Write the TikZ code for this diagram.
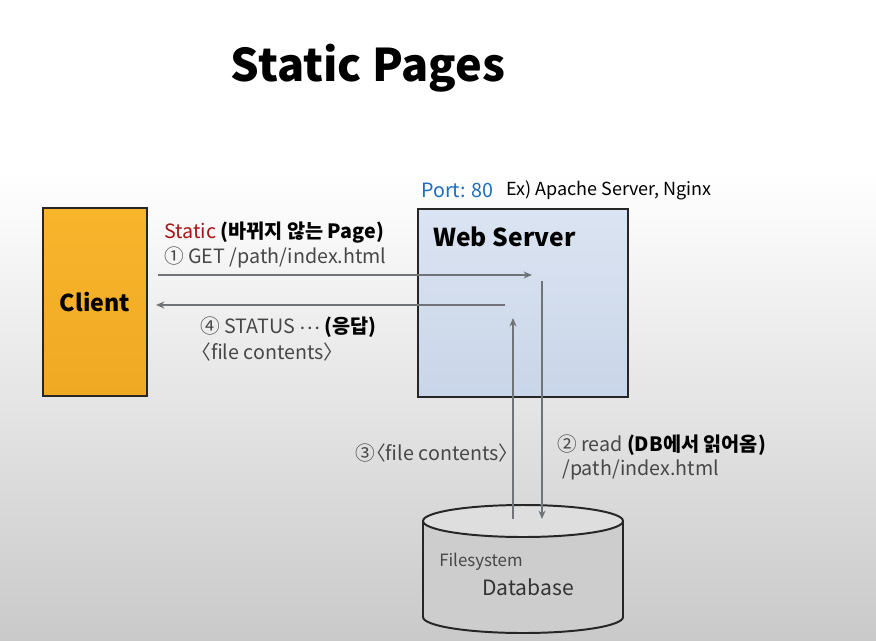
\documentclass[tikz,border=0pt]{standalone}
\usepackage{fontspec}
\setmainfont{Noto Sans CJK KR}
\usetikzlibrary{arrows.meta}

\definecolor{portblue}{HTML}{1E6EC0}
\definecolor{staticred}{HTML}{A81414}
\definecolor{flowgray}{HTML}{707478}
\definecolor{dbgray}{HTML}{CDCDCD}
\definecolor{clienttop}{HTML}{F8B52C}
\definecolor{clientbot}{HTML}{F0A923}
\definecolor{servertop}{HTML}{DBE4F2}
\definecolor{serverbot}{HTML}{C9D5E8}

\newcommand{\lang}{\kern-0.45em〈}
\newcommand{\rang}{〉}

\begin{document}
\begin{tikzpicture}[
    x=0.025cm, y=-0.025cm,
    >={Stealth[length=6pt,width=5pt]},
    box/.style={draw=black!85, line width=1.4pt, anchor=north west, inner sep=0pt},
    flow/.style={draw=flowgray, line width=0.8pt},
    lbl/.style={anchor=west, inner sep=0pt, text=black!72, font=\fontsize{14}{16}\selectfont},
    strong/.style={lbl, text=black}
]
  \useasboundingbox (0,0) rectangle (876,640);
  % background
  \fill[white] (0,0) rectangle (876,170);
  \shade[top color=white, bottom color=black!21] (0,170) rectangle (876,640);

  % title
  \node[font=\fontsize{32}{36}\selectfont\bfseries] (title) at (368,68) {Static Pages};

  % boxes
  \node[box, top color=clienttop, bottom color=clientbot,
        minimum width=2.6cm, minimum height=4.7cm,
        font=\fontsize{16.5}{20}\selectfont\bfseries] (client) at (42,207) {Client};
  \node[box, top color=servertop, bottom color=serverbot,
        minimum width=5.25cm, minimum height=4.7cm] (server) at (417,208) {};
  \node[strong, font=\fontsize{17.5}{21}\selectfont\bfseries] (servertitle) at (433,237) {Web Server};

  \node[lbl, text=portblue, font=\fontsize{14}{16}\selectfont] (port) at (421,190) {Port: 80};
  \node[strong, font=\fontsize{12.8}{15}\selectfont] (example) at (506,190) {Ex) Apache Server, Nginx};

  % database
  \fill[dbgray] (423,521) -- (423,617) arc[start angle=180, end angle=0, x radius=100, y radius=16] -- (623,521) -- cycle;
  \draw[black!85, line width=1.4pt] (423,521) -- (423,617) arc[start angle=180, end angle=0, x radius=100, y radius=16] -- (623,521);
  \filldraw[fill=black!13, draw=black!85, line width=1.4pt] (523,521) ellipse [x radius=100, y radius=16];
  \node[lbl, font=\fontsize{12}{14}\selectfont] (fs) at (439,562) {Filesystem};
  \node[lbl, text=black!80, font=\fontsize{15}{17}\selectfont] (dbname) at (482,587) {Database};

  % connector ends
  \coordinate (getstart) at (158,275);
  \coordinate (getend) at (532,275);
  \coordinate (resstart) at (505,305);
  \coordinate (resend) at (156,305);
  \coordinate (readstart) at (542,281);
  \coordinate (readend) at (542,519);
  \coordinate (filestart) at (513,519);
  \coordinate (fileend) at (513,318);

  \draw[flow,->] (getstart) -- (getend);
  \draw[flow,->] (resstart) -- (resend);
  \draw[flow,->] (readstart) -- (readend);
  \draw[flow,->] (filestart) -- (fileend);

  % labels
  \node[strong] (static) at (164,233) {\textcolor{staticred}{Static} \textbf{(바뀌지 않는 Page)}};
  \node[lbl] (get) at (164,257) {① GET /path/index.html};
  \node[lbl] (status) at (200,327) {④ STATUS \raisebox{0.4ex}{…} \textcolor{black}{\textbf{(응답)}}};
  \node[lbl] (statusbody) at (200,352) {\lang file contents\rang};
  \node[lbl] (filelbl) at (355,453) {③\lang file contents\rang};
  \node[lbl] (readlbl) at (557,445) {② read \textcolor{black}{\textbf{(DB에서 읽어옴)}}};
  \node[lbl] (readpath) at (562,470) {/path/index.html};
\end{tikzpicture}
\end{document}
